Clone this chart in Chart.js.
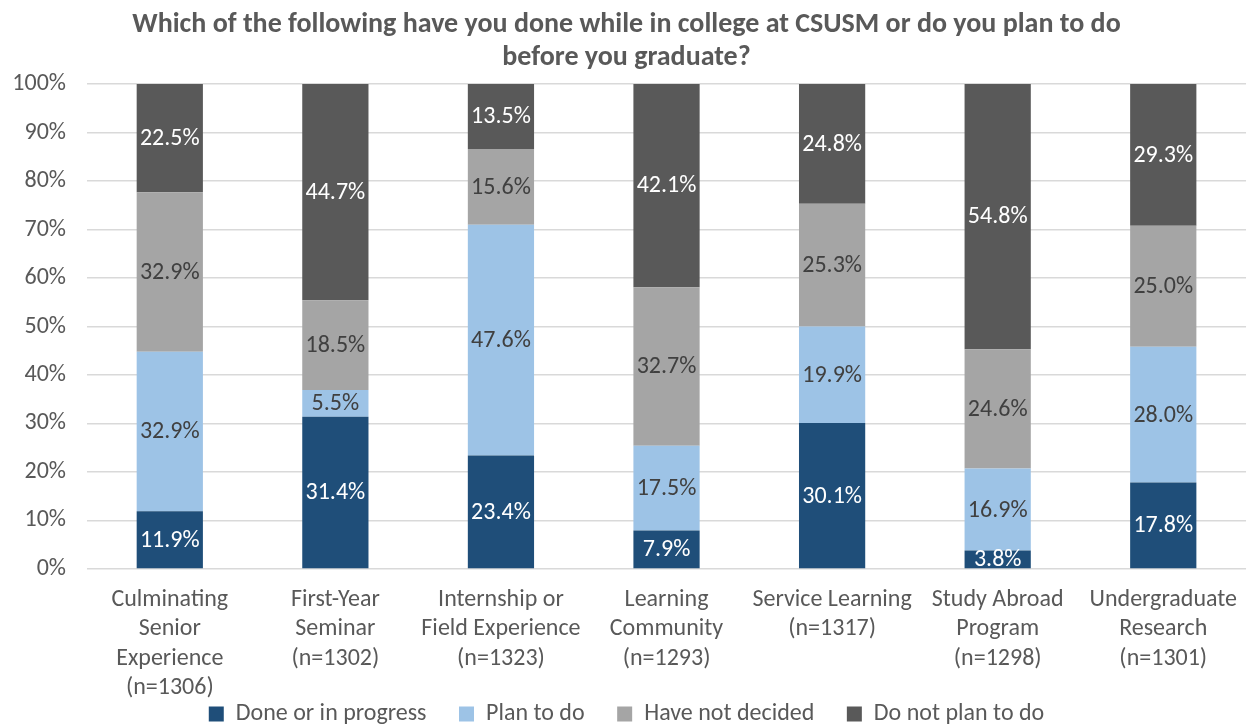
<!DOCTYPE html>
<html>
<head>
<meta charset="utf-8">
<script src="https://cdn.jsdelivr.net/npm/chart.js@4/dist/chart.umd.min.js"></script>
<style>
  html, body { margin: 0; padding: 0; background: #fff; }
  #wrap { width: 1253px; height: 726px; }
</style>
</head>
<body>
<div id="wrap"><canvas id="activityChart"></canvas></div>
<script>
const categories = [
  ['Culminating', 'Senior', 'Experience', '(n=1306)'],
  ['First-Year', 'Seminar', '(n=1302)'],
  ['Internship or', 'Field Experience', '(n=1323)'],
  ['Learning', 'Community', '(n=1293)'],
  ['Service Learning', '(n=1317)'],
  ['Study Abroad', 'Program', '(n=1298)'],
  ['Undergraduate', 'Research', '(n=1301)']
];
const doneOrInProgress = [11.9, 31.4, 23.4, 7.9, 30.1, 3.8, 17.8];
const planToDo = [32.9, 5.5, 47.6, 17.5, 19.9, 16.9, 28.0];
const haveNotDecided = [32.9, 18.5, 15.6, 32.7, 25.3, 24.6, 25.0];
const doNotPlanToDo = [22.5, 44.7, 13.5, 42.1, 24.8, 54.8, 29.3];
const yTicks = [0, 10, 20, 30, 40, 50, 60, 70, 80, 90, 100];

const FONT = 'Carlito, Calibri, Lato, "Open Sans", sans-serif';
const TEXT = '#595959';
const LEGEND_GAP = '      '; // horizontal room between legend items

// simple inline value labels, centered in each segment
const segmentLabels = {
  id: 'segmentLabels',
  afterDatasetsDraw(chart) {
    const ctx = chart.ctx;
    ctx.save();
    ctx.font = '24px ' + FONT;
    ctx.textAlign = 'center';
    ctx.textBaseline = 'middle';
    chart.data.datasets.forEach((ds, i) => {
      const meta = chart.getDatasetMeta(i);
      meta.data.forEach((bar, j) => {
        const p = bar.getProps(['x', 'y', 'base'], true);
        ctx.fillStyle = ds.labelColor;
        ctx.fillText(ds.data[j].toFixed(1) + '%', p.x, (p.y + p.base) / 2 + 1);
      });
    });
    ctx.restore();
  }
};

new Chart(document.getElementById('activityChart'), {
  type: 'bar',
  data: {
    labels: categories,
    datasets: [
      { label: 'Done or in progress', data: doneOrInProgress, backgroundColor: '#1F4E79', labelColor: '#ffffff' },
      { label: 'Plan to do', data: planToDo, backgroundColor: '#9DC3E6', labelColor: '#404040' },
      { label: 'Have not decided', data: haveNotDecided, backgroundColor: '#A5A5A5', labelColor: '#404040' },
      { label: 'Do not plan to do', data: doNotPlanToDo, backgroundColor: '#595959', labelColor: '#ffffff' }
    ]
  },
  options: {
    responsive: true,
    maintainAspectRatio: false,
    animation: false,
    datasets: { bar: { barPercentage: 0.4, categoryPercentage: 1.0 } },
    layout: { padding: { left: 0, right: 0, top: 8, bottom: -10 } },
    scales: {
      x: {
        stacked: true,
        afterFit: (s) => { s.height -= 17; },
        grid: { display: false, drawTicks: false },
        border: { display: false },
        ticks: { color: TEXT, font: { family: FONT, size: 24, lineHeight: 1.23 }, padding: 16, maxRotation: 0, autoSkip: false }
      },
      y: {
        stacked: true,
        min: 0,
        max: 100,
        afterBuildTicks: (s) => { s.ticks = yTicks.map(v => ({ value: v })); },
        afterFit: (s) => { s.width = 87; },
        grid: { color: '#D9D9D9', lineWidth: 1.5, drawTicks: false },
        border: { display: false },
        ticks: { color: TEXT, font: { family: FONT, size: 24 }, padding: 21, callback: (v) => v + '%' }
      }
    },
    plugins: {
      title: {
        display: true,
        text: ['Which of the following have you done while in college at CSUSM or do you plan to do', 'before you graduate?'],
        color: TEXT,
        font: { family: FONT, size: 28, weight: 'bold', lineHeight: 1.18 },
        padding: { top: 0, bottom: 10 }
      },
      legend: {
        position: 'bottom',
        labels: {
          color: TEXT,
          font: { family: FONT, size: 24 },
          boxWidth: 15,
          boxHeight: 15,
          padding: 0,
          generateLabels: (chart) => Chart.defaults.plugins.legend.labels.generateLabels(chart)
            .map((item, i, all) => Object.assign(item, { text: i < all.length - 1 ? item.text + LEGEND_GAP : item.text }))
        }
      },
      tooltip: { enabled: false }
    }
  },
  plugins: [segmentLabels]
});
</script>
</body>
</html>
